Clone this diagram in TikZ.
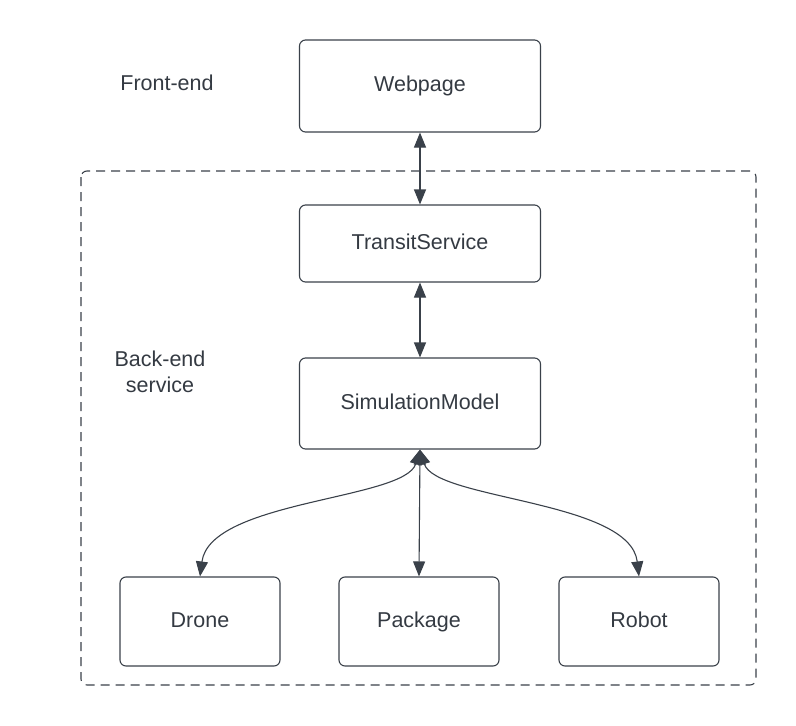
\documentclass[tikz,border=0pt]{standalone}
\usepackage{fontspec}
\setmainfont{Liberation Sans}
\usetikzlibrary{arrows.meta}
\definecolor{ink}{HTML}{3A414A}
\definecolor{txt}{HTML}{343A42}
\begin{document}
\begin{tikzpicture}[x=1pt,y=-1pt,
  box/.style={draw=ink,line width=1.1pt,rounded corners=6pt,minimum width=241pt,font=\fontsize{21.5}{26}\selectfont,text=txt,text height=15.5pt,text depth=4.5pt},
  smallbox/.style={box,minimum width=160pt,minimum height=89pt},
  lbl/.style={font=\fontsize{21.5}{26}\selectfont,text=txt,align=center},
  conn/.style={draw=ink,line width=1.1pt,{Triangle[length=15pt,width=12pt]}-{Triangle[length=15pt,width=12pt]}}
]
\useasboundingbox (0,0) rectangle (796,726);
\draw[draw=ink,line width=1.1pt,dash pattern=on 9pt off 6pt,rounded corners=6pt] (81,171) rectangle (756,685);
\node[box,minimum height=92pt] (web) at (420,86) {Webpage};
\node[box,minimum height=77pt] (ts) at (420,243.5) {TransitService};
\node[box,minimum height=91pt] (sm) at (420,403.5) {SimulationModel};
\node[smallbox] (drone) at (200,621.5) {Drone};
\node[smallbox] (pkg) at (419,621.5) {Package};
\node[smallbox] (robot) at (639,621.5) {Robot};
\node[lbl] (fe) at (167,83) {Front-end};
\node[lbl] (be) at (160,372) {Back-end\\service};
\draw[conn] (web.south) -- (ts.north);
\draw[conn] (ts.south) -- (sm.north);
\draw[conn] (sm.south) -- (pkg.north);
\draw[conn] (sm.south) .. controls (405,500) and (210,500) .. (drone.north);
\draw[conn] (sm.south) .. controls (435,500) and (630,500) .. (robot.north);
\end{tikzpicture}
\end{document}
